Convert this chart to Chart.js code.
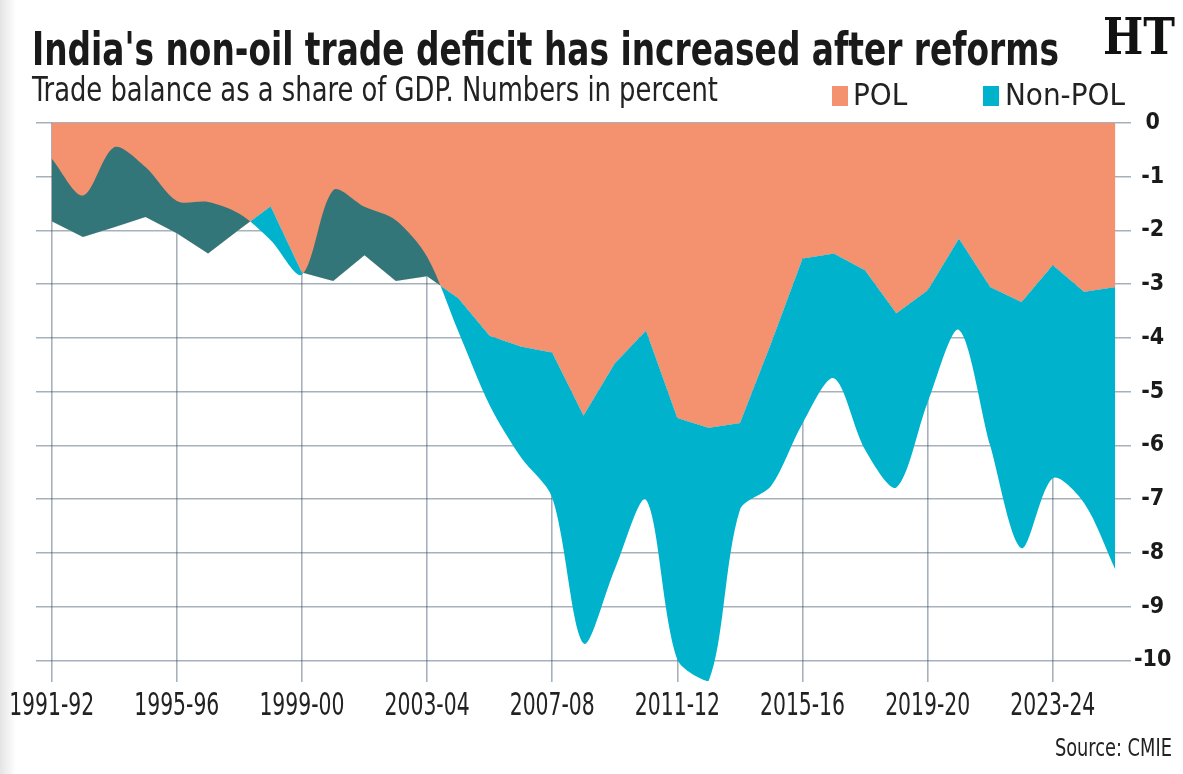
<!DOCTYPE html>
<html>
<head>
<meta charset="utf-8">
<title>India's non-oil trade deficit</title>
<script src="https://cdn.jsdelivr.net/npm/chart.js"></script>
<style>
  html, body { margin: 0; padding: 0; background: #fff; }
  body { width: 1183px; height: 774px; position: relative; overflow: hidden; }
  .narrow { font-family: "DejaVu Sans Condensed", "Liberation Sans", sans-serif; font-stretch: condensed; white-space: nowrap; position: absolute; line-height: 1; }
  #edge { position: absolute; left: 0; top: 0; width: 16px; height: 774px; background: linear-gradient(to right, #e4e4e4, #fff); }
  #title { left: 32px; top: 25px; font-size: 47px; font-weight: bold; color: #1a1a1a; transform-origin: left top; }
  #subtitle { left: 32px; top: 73px; font-size: 33px; color: #222; transform-origin: left top; }
  #legend { position: absolute; top: 79px; left: 832px; height: 34px; }
  .lg { position: absolute; top: 0; font-size: 31px; color: #222; }
  .sw { position: absolute; top: 7px; width: 16px; height: 20px; }
  #logo { position: absolute; left: 1103px; top: 12px; font-family: "DejaVu Serif", "Liberation Serif", serif; font-weight: bold; font-size: 50px; line-height: 1; color: #111; transform-origin: left top; white-space: nowrap; }
  #source { right: 11px; top: 735px; font-size: 25px; color: #222; transform-origin: right top; }
  #wrap { position: absolute; left: 0; top: 0; width: 1183px; height: 774px; }
</style>
</head>
<body>
<div id="edge"></div>
<div id="wrap"><canvas id="tradeChart"></canvas></div>
<div id="title" class="narrow" data-w="1027">India's non-oil trade deficit has increased after reforms</div>
<div id="subtitle" class="narrow" data-w="686">Trade balance as a share of GDP. Numbers in percent</div>
<div id="legend">
  <div class="sw" style="left:0;background:#f4916e"></div>
  <div class="lg narrow" style="left:21px">POL</div>
  <div class="sw" style="left:151px;background:#00b2cc"></div>
  <div class="lg narrow" style="left:173px">Non-POL</div>
</div>
<div id="logo" data-w="72">HT</div>
<div id="source" class="narrow" data-w="117">Source: CMIE</div>
<script>
// financial years on the x axis
var years = ["1991-92", "1992-93", "1993-94", "1994-95", "1995-96", "1996-97", "1997-98", "1998-99",
             "1999-00", "2000-01", "2001-02", "2002-03", "2003-04", "2004-05", "2005-06", "2006-07",
             "2007-08", "2008-09", "2009-10", "2010-11", "2011-12", "2012-13", "2013-14", "2014-15",
             "2015-16", "2016-17", "2017-18", "2018-19", "2019-20", "2020-21", "2021-22", "2022-23",
             "2023-24", "2024-25", "2025-26"];

// oil (POL) trade balance, % of GDP
var polBalance = [-1.83, -2.12, -1.94, -1.75, -2.05, -2.43, -1.98, -1.55,
                  -2.78, -2.94, -2.46, -2.94, -2.85, -3.26, -3.96, -4.16,
                  -4.27, -5.44, -4.47, -3.86, -5.49, -5.67, -5.58, -4.09,
                  -2.52, -2.43, -2.74, -3.54, -3.11, -2.15, -3.05, -3.33,
                  -2.64, -3.14, -3.05];

// non-oil (non-POL) trade balance, % of GDP
var nonPolBalance = [1.17, 0.77, 1.49, 0.93, 0.60, 0.96, 0.29, -0.63,
                     -0.04, 1.69, 0.90, 1.13, 0.36, -0.62, -1.29, -2.06,
                     -2.70, -4.24, -3.83, -3.15, -4.49, -4.71, -1.62, -2.66,
                     -3.07, -2.32, -3.34, -3.24, -2.09, -1.70, -2.95, -4.58,
                     -3.97, -3.93, -5.26];

// right hand axis ticks, and every how many years a label / grid line goes
var yTicks = [0, -1, -2, -3, -4, -5, -6, -7, -8, -9, -10];
var labelEvery = 4;

var ORANGE = "#f4916e";
var TEAL = "#00b2cc";
var DARK_TEAL = "#33767a";
var GRID = "rgba(45, 70, 95, 0.42)";
var FONT = '"DejaVu Sans Condensed", "Liberation Sans", sans-serif';

// non-POL is stacked on top of POL, so its edge is the overall balance
var totalBalance = [];
for (var i = 0; i < years.length; i++) {
  totalBalance.push(Math.round((polBalance[i] + nonPolBalance[i]) * 100) / 100);
}

// the year labels are in a very narrow face, so squeeze them sideways
var yearLabels = {
  id: "yearLabels",
  afterDraw: function (chart) {
    var x = chart.scales.x;
    var c = chart.ctx;
    c.save();
    c.font = "32px " + FONT;
    c.fillStyle = "#222";
    c.textAlign = "center";
    c.textBaseline = "middle";
    var squeeze = 85 / c.measureText(years[0]).width;
    for (var i = 0; i < years.length; i += labelEvery) {
      c.save();
      c.translate(x.getPixelForValue(i), x.top + 24.5);
      c.scale(squeeze, 1);
      c.fillText(years[i], 0, 0);
      c.restore();
    }
    c.restore();
  }
};

var ctx = document.getElementById("tradeChart");
var tradeChart = new Chart(ctx, {
  type: "line",
  data: {
    labels: years,
    datasets: [
      {
        label: "Non-POL",
        data: totalBalance,
        borderWidth: 0,
        pointRadius: 0,
        tension: 0.3,
        // dark where non-POL is a surplus (overlapping POL), light where it adds to the deficit
        fill: { target: 1, above: DARK_TEAL, below: TEAL }
      },
      {
        label: "POL",
        data: polBalance,
        borderWidth: 0,
        pointRadius: 0,
        tension: 0,
        backgroundColor: ORANGE,
        fill: "origin"
      }
    ]
  },
  plugins: [yearLabels],
  options: {
    responsive: true,
    maintainAspectRatio: false,
    animation: false,
    layout: { padding: { top: 123, left: 36, right: 12, bottom: 42 } },
    plugins: { legend: { display: false }, tooltip: { enabled: false } },
    scales: {
      x: {
        type: "category",
        offset: true,
        z: 1,
        border: { display: false },
        grid: {
          offset: false,
          drawTicks: false,
          lineWidth: 1.6,
          color: function (c) { return c.index % labelEvery === 0 ? GRID : "rgba(0,0,0,0)"; }
        },
        ticks: { display: false, autoSkip: false },
        afterFit: function (scale) { scale.height = 50; }
      },
      y: {
        position: "right",
        min: -10.4,
        max: 0,
        z: 1,
        border: { display: false },
        grid: { drawTicks: false, lineWidth: 1.6, color: GRID },
        ticks: {
          crossAlign: "center",
          padding: 3,
          color: "#1a1a1a",
          font: { family: FONT, size: 23, weight: "bold" },
          callback: function (value) { return String(value); }
        },
        afterBuildTicks: function (scale) {
          scale.ticks = yTicks.map(function (v) { return { value: v }; });
        },
        afterFit: function (scale) { scale.width = 40; }
      }
    }
  }
});

// squeeze the heading texts to the widths they have in the original
document.querySelectorAll("[data-w]").forEach(function (el) {
  var w = el.getBoundingClientRect().width;
  el.style.transform = "scaleX(" + (parseFloat(el.dataset.w) / w).toFixed(4) + ")";
});
</script>
</body>
</html>
